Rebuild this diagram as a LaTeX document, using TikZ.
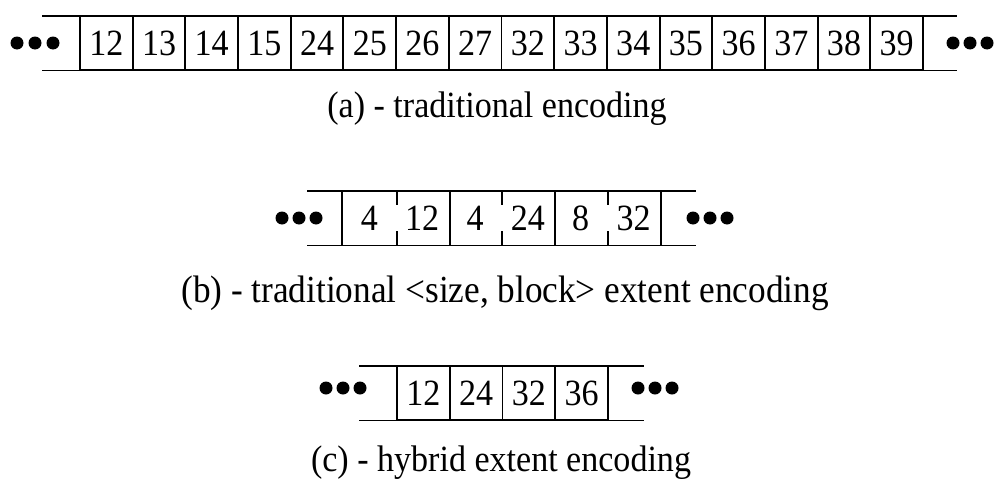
\documentclass[tikz,border=0pt]{standalone}
\usepackage{fontspec}
\setmainfont{Liberation Serif}[FakeStretch=0.92]
\newcommand{\figfont}{\fontsize{37}{42}\selectfont}
\newcommand{\bigfigfont}{\fontsize{38.3}{44}\selectfont}
\begin{document}
\begin{tikzpicture}[x=1pt,y=-1pt,line width=1.9pt,
  cell/.style={draw, minimum width=52.7pt, minimum height=53pt, inner sep=0pt, font=\figfont},
  bare/.style={minimum width=52.8pt, minimum height=53pt, inner sep=0pt, font=\figfont},
  caption/.style={anchor=base, inner sep=0pt, font=\figfont}]
\useasboundingbox (0,0) rectangle (994,479);

% (a) traditional encoding
\foreach \v [count=\i] in {12,13,14,15,24,25,26,27,32,33,34,35,36,37,38,39}
  \node[cell] (a\i) at ({80+52.69*(\i-0.5)},43) {\v};
\coordinate (aLt) at ([xshift=-37pt]a1.north west);
\coordinate (aLb) at ([xshift=-37pt]a1.south west);
\coordinate (aRt) at ([xshift=33pt]a16.north east);
\coordinate (aRb) at ([xshift=33pt]a16.south east);
\draw (aLt) -- (aRt);
\draw (aLb) -- (aRb);
\foreach \x in {17,35,53,953,970,987} \fill (\x,43) circle (6.5);
\node[caption] (capa) at (497,117) {(a) - traditional encoding};

% (b) traditional <size, block> extent encoding
\foreach \v [count=\i] in {4,12,4,24,8,32}
  \node[bare] (b\i) at ({343+52.83*(\i-0.5)},218) {\v};
\coordinate (bLt) at ([xshift=-35pt]b1.north west);
\coordinate (bLb) at ([xshift=-35pt]b1.south west);
\coordinate (bRt) at ([xshift=35pt]b6.north east);
\coordinate (bRb) at ([xshift=35pt]b6.south east);
\draw (bLt) -- (bRt);
\draw (bLb) -- (bRb);
\draw (b1.north west) -- (b1.south west);
\foreach \i in {2,4,6} \draw (b\i.north east) -- (b\i.south east);
\foreach \i in {1,3,5} {
  \draw (b\i.north east) -- ++(0,14);
  \draw (b\i.south east) -- ++(0,-14);
}
\foreach \x in {282,299,316,693,710,727} \fill (\x,218) circle (6.5);
\node[caption, font=\bigfigfont] (capb) at (505,302) {(b) - traditional {<}size, block{>} extent encoding};

% (c) hybrid extent encoding
\foreach \v [count=\i] in {12,24,32,36}
  \node[cell] (c\i) at ({397+52.75*(\i-0.5)},393) {\v};
\coordinate (cLt) at ([xshift=-37pt]c1.north west);
\coordinate (cLb) at ([xshift=-37pt]c1.south west);
\coordinate (cRt) at ([xshift=35pt]c4.north east);
\coordinate (cRb) at ([xshift=35pt]c4.south east);
\draw (cLt) -- (cRt);
\draw (cLb) -- (cRb);
\foreach \x in {326,343,360,638,655,672} \fill (\x,388) circle (6.5);
\node[caption] (capc) at (501,471) {(c) - hybrid extent encoding};
\end{tikzpicture}
\end{document}
